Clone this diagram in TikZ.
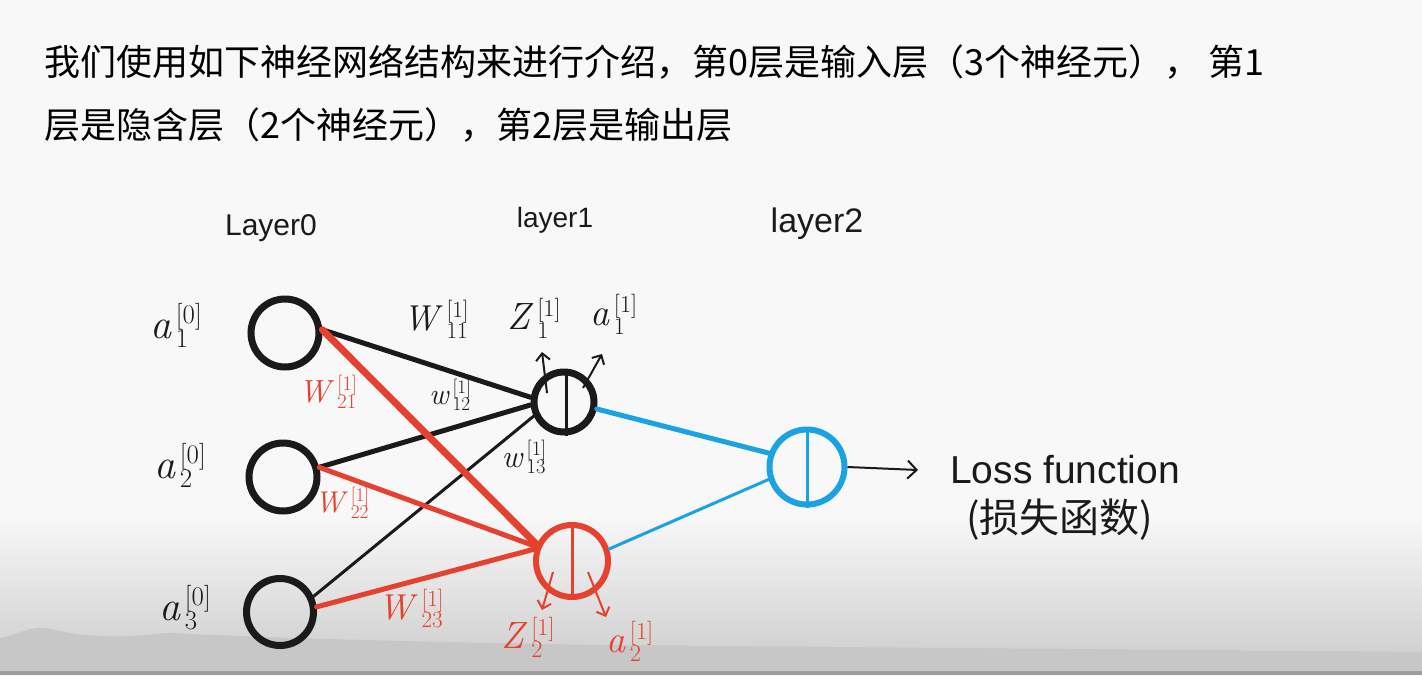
\documentclass[tikz,border=0pt]{standalone}
\usepackage{fontspec}
\usetikzlibrary{arrows.meta}
\newfontfamily\cjk{Noto Sans CJK SC}
\newfontfamily\handfont{Liberation Sans}
\definecolor{ink}{HTML}{1A1A1A}
\definecolor{rd}{HTML}{E6402E}
\definecolor{bl}{HTML}{1BA2E2}
\definecolor{bg}{HTML}{F8F8F8}
\newcommand\nnlab[3]{\textit{#1}\kern0.1em\raisebox{0.1em}{\scalebox{0.64}{\begin{tabular}[c]{@{}l@{}}[#2]\\[-0.15em]#3\end{tabular}}}}
\begin{document}
\begin{tikzpicture}[x=1pt,y=1pt,
  neuron/.style={circle,draw=ink,line width=7pt,inner sep=0pt,minimum size=68pt},
  conn/.style={line width=5pt,line cap=round},
  lbl/.style={inner sep=0pt,text=ink,font=\fontsize{42}{44}\selectfont},
  wlbl/.style={inner sep=0pt,font=\fontsize{36}{38}\selectfont},
  title/.style={inner sep=0pt,anchor=west,text=black,font=\cjk\fontsize{36}{40}\selectfont},
  layertxt/.style={inner sep=0pt,text=ink,font=\handfont\fontsize{30}{32}\selectfont},
  smallarrow/.style={-{Straight Barb[length=7pt,width=14pt,line width=2pt]},line width=2pt}]
% background
\fill[bg] (0,0) rectangle (1422,-675);
\shade[top color=bg, bottom color=black!19] (0,-515) rectangle (1422,-662);
\fill[black!22] (0,-638) .. controls (15,-636) and (25,-628) .. (40,-628)
  .. controls (55,-628) and (60,-634) .. (100,-636)
  .. controls (140,-638) and (160,-632) .. (175,-633)
  .. controls (190,-634) and (300,-640) .. (600,-645)
  -- (1422,-652) -- (1422,-675) -- (0,-675) -- cycle;
\fill[black!38] (0,-671) rectangle (1422,-675);
% title text
\node[title] (t1) at (44,-62) {我们使用如下神经网络结构来进行介绍，第0层是输入层（3个神经元）， 第1};
\node[title] (t2) at (44,-125) {层是隐含层（2个神经元），第2层是输出层};
% layer labels
\node[layertxt] (L0) at (271,-228) {Layer0};
\node[layertxt,font=\handfont\fontsize{28}{30}\selectfont] (L1) at (555,-220) {layer1};
\node[layertxt,font=\handfont\fontsize{34}{36}\selectfont] (L2) at (817,-224) {layer2};
% neurons
\node[neuron] (i1) at (285,-333) {};
\node[neuron] (i2) at (283,-477) {};
\node[neuron,minimum size=67pt] (i3) at (280,-612) {};
\node[neuron,minimum size=60pt] (h1) at (564,-402) {};
\node[neuron,draw=rd,line width=6pt,minimum size=72pt] (h2) at (572,-561) {};
\node[neuron,draw=bl,line width=6pt,minimum size=75pt] (o) at (807,-467) {};
% connections
\draw[conn,ink] (i1.5) -- (h1.172);
\draw[conn,ink] (i2.15) -- (h1.185);
\draw[conn,ink,line width=3pt] (i3.25) -- (h1.205);
\draw[conn,rd,line width=7pt] (i1.5) -- (h2.155);
\draw[conn,rd] (i2.15) -- (h2.158);
\draw[conn,rd] (i3.8) -- (h2.162);
\draw[conn,bl] (h1.-12) -- (o.160);
\draw[conn,bl,line width=3pt] (h2.18) -- (o.198);
\coordinate (lossend) at (918,-470);
\draw[ink,line width=2pt,-{Straight Barb[length=9pt,width=18pt,line width=2pt]}] (o.east) -- (lossend);
% inner bars
\draw[ink,line width=3pt] ([xshift=2pt]h1.north) -- ([xshift=2pt]h1.south);
\draw[rd,line width=3pt] (h2.north) -- (h2.south);
\draw[bl,line width=3pt] (o.north) -- (o.south);
% z/a labels and small arrows
\node[lbl,font=\fontsize{38}{40}\selectfont] (z1) at (534,-322) {\nnlab{Z}{1}{1}};
\node[lbl,font=\fontsize{38}{40}\selectfont] (a11) at (614,-318) {\nnlab{a}{1}{1}};
\node[lbl,text=rd,font=\fontsize{38}{40}\selectfont] (z2) at (528,-641) {\nnlab{Z}{1}{2}};
\node[lbl,text=rd,font=\fontsize{38}{40}\selectfont] (a12) at (630,-645) {\nnlab{a}{1}{2}};
\coordinate (z1s) at (547,-393);
\coordinate (z1e) at (542,-352);
\coordinate (a1s) at (583,-388);
\coordinate (a1e) at (602,-354);
\coordinate (z2s) at (553,-572);
\coordinate (z2e) at (542,-610);
\coordinate (a2s) at (588,-572);
\coordinate (a2e) at (606,-617);
\draw[smallarrow,ink] (z1s) -- (z1e);
\draw[smallarrow,ink] (a1s) -- (a1e);
\draw[smallarrow,rd] (z2s) -- (z2e);
\draw[smallarrow,rd] (a2s) -- (a2e);
% input labels
\node[lbl] (a10) at (176,-330) {\nnlab{a}{0}{1}};
\node[lbl] (a20) at (180,-470) {\nnlab{a}{0}{2}};
\node[lbl] (a30) at (185,-612) {\nnlab{a}{0}{3}};
% weight labels
\node[wlbl,text=ink] (w11) at (436,-323) {\nnlab{W}{1}{11}};
\node[wlbl,text=ink,font=\fontsize{30}{32}\selectfont] (w12) at (450,-398) {\nnlab{w}{1}{12}};
\node[wlbl,text=ink,font=\fontsize{32}{34}\selectfont] (w13) at (524,-460) {\nnlab{w}{1}{13}};
\node[wlbl,text=rd,font=\fontsize{32}{34}\selectfont] (w21) at (328,-395) {\nnlab{W}{1}{21}};
\node[wlbl,text=rd,font=\fontsize{30}{32}\selectfont] (w22) at (342,-506) {\nnlab{W}{1}{22}};
\node[wlbl,text=rd] (w23) at (411,-612) {\nnlab{W}{1}{23}};
% loss text
\node[inner sep=0pt,anchor=west,text=ink,font=\handfont\fontsize{39}{42}\selectfont] (loss) at (950,-470) {Loss function};
\node[inner sep=0pt,anchor=west,text=ink,font=\cjk\fontsize{40}{44}\selectfont] (losscn) at (966,-520) {(损失函数)};
\useasboundingbox (0,0) rectangle (1422,-675);
\end{tikzpicture}
\end{document}
